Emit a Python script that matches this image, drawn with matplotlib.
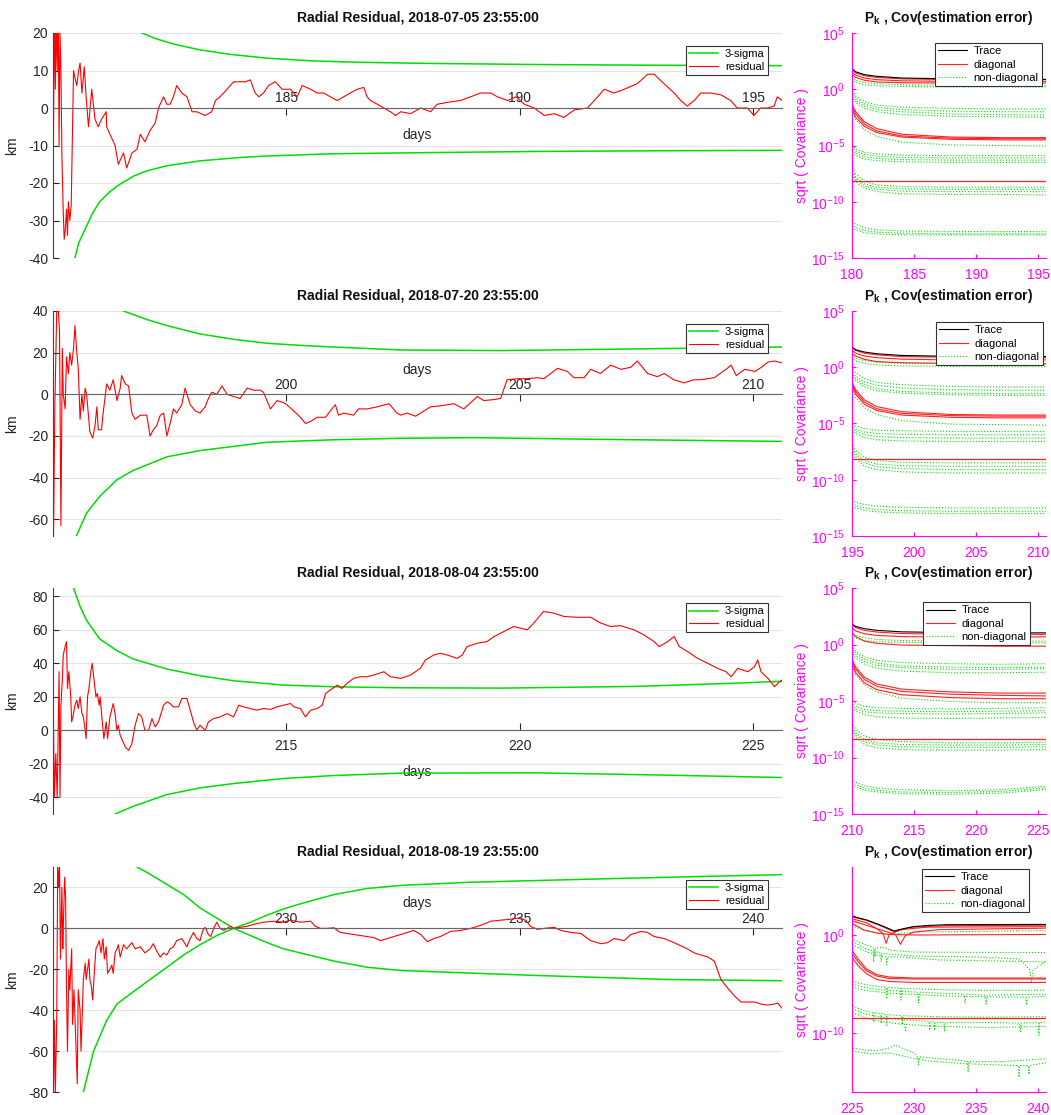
import numpy as np
import matplotlib
matplotlib.use("Agg")
import matplotlib.pyplot as plt
from matplotlib.lines import Line2D

plt.rcParams['font.family'] = ['Liberation Sans', 'DejaVu Sans']
plt.rcParams['mathtext.fontset'] = 'custom'
plt.rcParams['mathtext.rm'] = 'Liberation Sans'
plt.rcParams['mathtext.bf'] = 'Liberation Sans:bold'
plt.rcParams['mathtext.default'] = 'regular'
plt.rcParams['axes.unicode_minus'] = False

# ---------------- residual data (day, km) ----------------
res1 = [(180.0, 35), (180.01, -8), (180.03, 30), (180.05, 5), (180.07, 25), (180.09, 10), (180.11, 30),
        (180.13, -10), (180.15, 20), (180.17, 10), (180.19, -12), (180.22, -28), (180.24, -35), (180.26, -33),
        (180.29, -27), (180.31, -34), (180.33, -25), (180.36, -30), (180.39, -26), (180.42, -5), (180.44, 10),
        (180.47, 8), (180.51, 6), (180.55, 10), (180.58, 12), (180.62, 4), (180.67, 11), (180.71, 3),
        (180.76, -5), (180.83, 5), (180.90, -3), (180.97, -5), (181.04, -3), (181.14, -1), (181.15, -5),
        (181.22, -7), (181.33, -10), (181.40, -15), (181.51, -12), (181.58, -16), (181.69, -12), (181.80, -11),
        (181.87, -7), (181.97, -9), (182.08, -6), (182.19, -4), (182.26, 0), (182.37, 3), (182.44, 1),
        (182.51, 1), (182.58, 3), (182.65, 6), (182.76, 4), (182.87, 3), (182.98, -1), (183.08, -1),
        (183.26, -2), (183.40, -1), (183.48, 2), (183.58, 3), (183.73, 5), (183.87, 7), (184.01, 7),
        (184.12, 7), (184.23, 7.5), (184.33, 4), (184.41, 3), (184.51, 4), (184.62, 6), (184.76, 7),
        (184.91, 5), (185.09, 5), (185.23, 3), (185.34, 6), (185.52, 5), (185.66, 4), (185.80, 4),
        (185.94, 3), (186.09, 2), (186.23, 3), (186.37, 4), (186.52, 5), (186.66, 5.5), (186.73, 3),
        (186.80, 2), (186.95, 1), (187.09, 0), (187.23, -1), (187.34, -2), (187.45, -1), (187.66, -1.5),
        (187.88, 0), (188.09, -1), (188.23, 1), (188.45, 1.5), (188.73, 2), (188.95, 3), (189.16, 4),
        (189.38, 4), (189.52, 3), (189.74, 2), (189.92, 3), (190.10, 1), (190.31, 0), (190.53, -2),
        (190.74, -1.5), (190.95, -2.5), (191.17, -0.5), (191.45, 0), (191.60, 2), (191.81, 5), (192.02, 4),
        (192.24, 5), (192.52, 6.5), (192.74, 9), (192.88, 9), (193.09, 6.5), (193.31, 4), (193.45, 2),
        (193.59, 0.5), (193.74, 2), (193.88, 4), (194.09, 4), (194.31, 3.5), (194.52, 2), (194.66, 0),
        (194.88, 0), (195.02, -2), (195.16, 0), (195.30, 0), (195.45, 0.5), (195.52, 3), (195.62, 2)]

res2 = [(195.0, 45), (195.01, -70), (195.04, -5), (195.08, 40), (195.11, 42), (195.14, 30), (195.17, -63),
        (195.20, 22), (195.22, 0), (195.26, -7), (195.29, 18), (195.33, 10), (195.36, 20), (195.40, 14),
        (195.44, 22), (195.47, 33), (195.51, 20), (195.54, 13), (195.58, -12), (195.62, 0), (195.65, -8),
        (195.69, 3), (195.72, 0), (195.76, -10), (195.79, -18), (195.85, -21), (195.90, -15), (195.94, -6),
        (195.97, -17), (196.04, -17), (196.08, -8), (196.15, 5), (196.22, 2), (196.29, 7), (196.37, -3),
        (196.44, 3), (196.47, 9), (196.55, 5), (196.62, 4), (196.69, -9), (196.76, -12), (196.87, -10),
        (197.01, -10), (197.08, -20), (197.15, -17), (197.22, -15), (197.30, -10), (197.37, -9), (197.44, -20),
        (197.51, -14), (197.58, -7), (197.65, -9), (197.76, -5), (197.83, 3), (197.94, -5), (198.05, -8),
        (198.15, -9), (198.26, -6), (198.33, -2), (198.40, 1), (198.51, 0), (198.62, 4), (198.73, 0),
        (198.87, -1), (199.01, -2), (199.16, 3), (199.30, 2), (199.44, 2), (199.51, 1), (199.66, -7),
        (199.80, -3), (199.94, -4), (200.01, -5), (200.16, -8), (200.30, -11), (200.41, -14), (200.52, -13),
        (200.66, -11), (200.84, -11), (200.94, -8), (201.05, -5), (201.12, -10), (201.23, -9), (201.44, -10),
        (201.55, -7), (201.73, -7), (201.95, -6), (202.20, -4.5), (202.37, -9), (202.45, -10), (202.59, -9),
        (202.77, -10.5), (202.95, -8), (203.09, -6), (203.30, -5.5), (203.59, -4.5), (203.80, -7),
        (203.95, -4), (204.09, -1), (204.23, -3), (204.45, -2.5), (204.59, -2), (204.73, 7), (204.95, 7.5),
        (205.16, 7.5), (205.38, 8), (205.52, 7.5), (205.81, 12.5), (206.02, 11), (206.16, 8), (206.38, 8),
        (206.52, 12), (206.73, 10), (206.95, 14), (207.17, 12), (207.38, 13), (207.52, 16), (207.74, 10),
        (207.95, 8.5), (208.10, 10), (208.30, 7), (208.52, 5.5), (208.73, 7), (208.88, 7), (209.17, 8),
        (209.42, 12), (209.53, 14), (209.64, 9), (209.82, 12), (210.04, 11), (210.18, 13), (210.32, 15.5),
        (210.46, 16), (210.64, 15)]

res3 = [(210.0, 90), (210.005, -55), (210.01, 5), (210.03, -40), (210.06, -14), (210.09, -40), (210.13, 35),
        (210.15, -40), (210.17, 15), (210.20, 30), (210.22, 45), (210.26, 50), (210.29, 53), (210.31, 25),
        (210.34, 35), (210.38, 20), (210.40, 5), (210.44, 10), (210.47, 15), (210.51, 18), (210.54, 13),
        (210.58, 20), (210.62, 10), (210.65, 8), (210.69, 0), (210.71, -5), (210.74, 20), (210.77, 25),
        (210.81, 35), (210.84, 40), (210.88, 30), (210.92, 20), (210.95, 22), (210.99, 15), (211.01, 20),
        (211.04, 10), (211.09, -5), (211.14, 5), (211.17, -5), (211.22, 8), (211.29, 16), (211.33, 10),
        (211.37, 0), (211.40, 3), (211.44, -3), (211.47, -5), (211.55, -10), (211.62, -12), (211.69, -8),
        (211.76, 3), (211.83, 10), (211.90, 8), (211.97, 0), (212.05, 0), (212.12, 7), (212.19, 2),
        (212.26, 5), (212.37, 15), (212.44, 17), (212.51, 16), (212.58, 14), (212.69, 14), (212.76, 19),
        (212.87, 19), (212.94, 12), (213.01, 5), (213.08, 0), (213.15, 3), (213.26, 0), (213.33, 5),
        (213.44, 7), (213.58, 8), (213.73, 10), (213.87, 8), (213.98, 15), (214.08, 14), (214.23, 13),
        (214.37, 12), (214.51, 13), (214.66, 12.5), (214.80, 14), (214.94, 15), (215.09, 16), (215.16, 14),
        (215.30, 13), (215.41, 8), (215.52, 12), (215.66, 13), (215.77, 15), (215.84, 22), (215.94, 24),
        (216.09, 27), (216.19, 25), (216.30, 28), (216.44, 31), (216.59, 32), (216.73, 32), (216.87, 33),
        (217.09, 35), (217.23, 32), (217.45, 31), (217.66, 33), (217.87, 37), (217.98, 42), (218.16, 45),
        (218.30, 46), (218.44, 45), (218.66, 43), (218.77, 45), (218.87, 50), (219.09, 52), (219.30, 53),
        (219.45, 56), (219.66, 59), (219.87, 62), (220.16, 60), (220.30, 64), (220.51, 71), (220.73, 70),
        (220.95, 68), (221.23, 67.5), (221.52, 67.5), (221.74, 64), (221.95, 62), (222.16, 62.5),
        (222.45, 60), (222.66, 57), (222.88, 53), (222.99, 50), (223.17, 53), (223.31, 56), (223.42, 50),
        (223.60, 47), (223.81, 43), (224.03, 40), (224.24, 37), (224.42, 35), (224.53, 32), (224.67, 37),
        (224.89, 35), (225.03, 38), (225.10, 42), (225.17, 35), (225.32, 31), (225.46, 26), (225.53, 28),
        (225.62, 30)]

res4 = [(225.0, 35), (225.005, -85), (225.01, -80), (225.03, -45), (225.05, -80), (225.08, -45), (225.10, 30),
        (225.12, 20), (225.14, 30), (225.16, -15), (225.19, 20), (225.21, -10), (225.22, 0), (225.25, 25),
        (225.27, 15), (225.29, -30), (225.31, -60), (225.34, -20), (225.36, -30), (225.40, -10), (225.42, -47),
        (225.45, -30), (225.48, -50), (225.52, -76), (225.54, -30), (225.58, -40), (225.60, -60),
        (225.63, -40), (225.65, -25), (225.69, -17), (225.71, -25), (225.74, -20), (225.77, -15),
        (225.79, -25), (225.82, -28), (225.85, -35), (225.89, -20), (225.92, -10), (225.96, -8), (225.99, -6),
        (226.03, -12), (226.07, -5), (226.10, -15), (226.14, -9), (226.17, -22), (226.22, -20), (226.26, -18),
        (226.29, -22), (226.33, -12), (226.37, -10), (226.40, -8), (226.44, -14), (226.51, -8), (226.58, -10),
        (226.69, -7), (226.76, -10), (226.87, -9), (226.97, -12), (227.08, -10), (227.15, -7.5),
        (227.22, -11), (227.30, -14), (227.37, -12), (227.44, -13), (227.51, -10), (227.58, -9), (227.65, -6),
        (227.76, -5), (227.87, -9), (227.94, -5), (228.01, -2), (228.08, -5), (228.15, -6), (228.21, -1),
        (228.26, 0.5), (228.33, -3), (228.38, -4), (228.44, 0), (228.51, 3), (228.58, 0), (228.66, -1),
        (228.73, 0), (228.80, 1), (228.87, 0), (229.01, 0.5), (229.16, 1), (229.30, 2), (229.51, 3),
        (229.73, 3.5), (229.94, 3), (230.09, 4), (230.30, 3), (230.52, 3.5), (230.62, 1), (230.73, 0),
        (230.87, 0), (231.02, 0.3), (231.09, -1), (231.16, -2), (231.30, -2.5), (231.44, -3), (231.59, -3.5),
        (231.73, -4), (231.87, -4.5), (232.02, -6), (232.16, -5), (232.30, -4), (232.45, -3), (232.59, -2),
        (232.73, -1), (232.88, -3), (233.02, -6.5), (233.16, -5), (233.30, -4), (233.52, -1.5), (233.73, -1),
        (233.95, 0), (234.17, 1.5), (234.38, 3.5), (234.59, 4), (234.81, 4.5), (234.95, 5), (235.13, 4),
        (235.23, 1), (235.38, -0.5), (235.52, 0), (235.74, 0.5), (235.88, -1), (236.10, -2), (236.31, -2.5),
        (236.52, -6), (236.74, -7.5), (236.88, -7), (237.02, -5), (237.24, -6), (237.38, -3), (237.60, -1.5),
        (237.74, -2), (237.88, -4), (238.10, -5), (238.31, -7), (238.45, -8.5), (238.59, -10), (238.74, -12),
        (238.88, -13), (239.03, -14), (239.17, -16), (239.31, -25), (239.45, -29), (239.60, -33),
        (239.74, -36), (239.88, -36), (240.03, -36), (240.17, -37), (240.31, -37.5), (240.46, -37),
        (240.53, -36.5), (240.62, -39)]

# 3-sigma envelopes (day, km)
sig1_hi = [(181.2, 26), (181.5, 23), (181.85, 20.3), (182.2, 18.5), (182.6, 17), (183.15, 15.5), (183.8, 14.3),
           (184.58, 13.3), (185.5, 12.6), (186.5, 12.2), (188.0, 11.9), (190.3, 11.6), (193.0, 11.4), (195.62, 11.3)]
sig1_lo = [(180.42, -44), (180.47, -40), (180.55, -36), (180.72, -31.5), (180.85, -28), (181.0, -25),
           (181.2, -22.5), (181.4, -20.6), (181.72, -18.2), (182.0, -16.8), (182.44, -15.4), (183.15, -14.1),
           (184.0, -13.2), (184.58, -12.8), (186.0, -12.2), (188.0, -11.9), (190.3, -11.6), (193.0, -11.4),
           (195.62, -11.3)]
sig2_hi = [(196.3, 44), (196.51, 40), (197.0, 36), (197.44, 33), (198.15, 29), (198.9, 26.3), (199.59, 24.5),
           (200.3, 23.5), (201.02, 22.7), (202.45, 21.3), (204.6, 21.0), (207.5, 21.8), (210.64, 22.7)]
sig2_lo = [(195.45, -75), (195.5, -68), (195.72, -57), (196.0, -49), (196.37, -41), (196.72, -36.5),
           (197.44, -30), (198.15, -27), (199.59, -23), (201.02, -21.8), (202.45, -21.1), (204.0, -20.8),
           (206.7, -21.6), (210.64, -22.6)]
sig3_hi = [(210.4, 90), (210.44, 85), (210.58, 74), (210.72, 65.6), (211.0, 54.6), (211.37, 47.6),
           (211.72, 42.6), (212.44, 36.6), (213.15, 32.6), (213.87, 29.6), (214.94, 27), (216.02, 26),
           (217.45, 25.4), (219.6, 25.2), (222.45, 26.2), (224.5, 28.0), (225.62, 29.3)]
sig3_lo = [(211.2, -53), (211.33, -50), (211.72, -45.4), (212.44, -38.4), (213.15, -34.4), (213.87, -31.8),
           (214.94, -28.8), (216.02, -27), (217.45, -25.6), (220.3, -25.4), (223.17, -26.8), (225.62, -28.2)]
sig4_hi = [(225.6, -90), (225.65, -80), (225.87, -60), (226.15, -45), (226.37, -37), (226.72, -31),
           (227.08, -25), (227.44, -19), (227.8, -13), (228.15, -8), (228.51, -3.5), (228.87, 0), (229.23, 3),
           (229.59, 6.5), (229.94, 9.5), (230.3, 12), (231.02, 16.5), (231.73, 19.5), (232.45, 21),
           (233.88, 22.5), (236.74, 24.2), (240.64, 26.3)]
sig4_lo = [(226.6, 36), (226.8, 30), (227.08, 26.5), (227.44, 21.5), (227.8, 16.5), (228.15, 10), (228.51, 5),
           (228.87, 0), (229.23, -3.5), (229.59, -7), (229.94, -10), (230.3, -12), (231.02, -16), (231.73, -19),
           (232.45, -20.6), (235.31, -23), (238.17, -25), (240.64, -25.6)]

titles = ['Radial Residual, 2018-07-05 23:55:00', 'Radial Residual, 2018-07-20 23:55:00',
          'Radial Residual, 2018-08-04 23:55:00', 'Radial Residual, 2018-08-19 23:55:00']
starts = [180, 195, 210, 225]
ylims = [(-40, 20), (-68, 40), (-50, 85), (-80, 30)]
yticks = [[-40, -30, -20, -10, 0, 10, 20], [-60, -40, -20, 0, 20, 40],
          [-40, -20, 0, 20, 40, 60, 80], [-80, -60, -40, -20, 0, 20]]
xticks = [[185, 190, 195], [200, 205, 210], [215, 220, 225], [230, 235, 240]]

# ---------------- covariance data (log10 of sqrt covariance) ----------------
cov_dt = [0, 0.03, 0.3, 1, 2, 4, 8, 12, 15.62]

cov1_trace = [5.0, 1.8, 1.55, 1.3, 1.15, 1.0, 0.92, 0.9, 0.88]
cov1_diag = [[4.9, 1.65, 1.45, 1.2, 1.05, 0.92, 0.86, 0.85, 0.85],
             [4.0, 1.45, 1.25, 1.0, 0.85, 0.75, 0.7, 0.7, 0.7],
             [3.5, 1.25, 1.05, 0.8, 0.65, 0.58, 0.55, 0.55, 0.55],
             [-1.0, -1.4, -2.0, -2.9, -3.5, -4.0, -4.25, -4.3, -4.3],
             [-1.2, -1.5, -2.2, -3.1, -3.7, -4.15, -4.35, -4.4, -4.4],
             [-1.6, -1.8, -2.5, -3.3, -3.85, -4.25, -4.45, -4.5, -4.5]]
cov1_flat = -8.18
cov1_off = [[0.9, 1.0, 0.8, 0.6, 0.5, 0.4, 0.35, 0.33, 0.33],
            [0.7, 0.8, 0.6, 0.4, 0.3, 0.25, 0.2, 0.2, 0.2],
            [-15, -0.1, -0.6, -1.1, -1.4, -1.6, -1.7, -1.75, -1.75],
            [-0.2, -0.3, -0.8, -1.3, -1.6, -1.8, -1.95, -2.0, -2.0],
            [-0.4, -0.5, -1.0, -1.5, -1.8, -2.0, -2.2, -2.25, -2.3],
            [-0.6, -0.7, -1.2, -1.7, -2.0, -2.25, -2.4, -2.45, -2.5],
            [-1.9, -2.0, -2.7, -3.6, -4.2, -4.7, -4.95, -5.0, -5.05],
            [-15, -5.0, -5.3, -5.6, -5.75, -5.85, -5.9, -5.9, -5.9],
            [-5.1, -5.2, -5.5, -5.8, -5.95, -6.05, -6.1, -6.1, -6.1],
            [-5.4, -5.4, -5.7, -6.0, -6.15, -6.25, -6.3, -6.3, -6.3],
            [-5.6, -5.6, -5.9, -6.2, -6.35, -6.45, -6.5, -6.5, -6.5],
            [-15, -6.8, -7.5, -8.2, -8.5, -8.65, -8.7, -8.7, -8.7],
            [-7.0, -7.1, -7.8, -8.4, -8.7, -8.85, -8.9, -8.9, -8.9],
            [-7.3, -7.4, -8.0, -8.6, -8.9, -9.05, -9.1, -9.1, -9.1],
            [-7.6, -7.6, -8.2, -8.8, -9.1, -9.3, -9.35, -9.35, -9.4],
            [-15, -11.8, -12.0, -12.3, -12.5, -12.6, -12.65, -12.65, -12.65],
            [-12.0, -12.1, -12.3, -12.55, -12.7, -12.8, -12.85, -12.85, -12.85],
            [-12.3, -12.3, -12.5, -12.75, -12.85, -12.95, -12.95, -12.95, -12.95]]

cov2_trace = [5.0, 1.8, 1.55, 1.35, 1.2, 1.05, 0.97, 0.95, 0.95]
cov2_diag = [[4.9, 1.7, 1.5, 1.25, 1.1, 0.95, 0.88, 0.86, 0.85],
             [4.0, 1.5, 1.25, 1.0, 0.85, 0.72, 0.65, 0.65, 0.65],
             [3.5, 1.2, 1.0, 0.7, 0.5, 0.4, 0.35, 0.3, 0.3],
             [-1.0, -1.4, -2.0, -2.9, -3.5, -3.95, -4.2, -4.25, -4.25],
             [-1.2, -1.5, -2.2, -3.1, -3.7, -4.1, -4.3, -4.35, -4.35],
             [-1.5, -1.7, -2.4, -3.3, -3.85, -4.25, -4.45, -4.5, -4.5]]
cov2_flat = -8.18
cov2_off = [[0.9, 1.0, 0.8, 0.6, 0.45, 0.35, 0.3, 0.3, 0.3],
            [0.7, 0.8, 0.55, 0.35, 0.2, 0.12, 0.08, 0.05, 0.05],
            [-15, 0.0, -0.5, -1.0, -1.35, -1.55, -1.7, -1.75, -1.75],
            [-0.2, -0.3, -0.8, -1.3, -1.6, -1.85, -2.0, -2.05, -2.05],
            [-0.45, -0.5, -1.0, -1.55, -1.9, -2.15, -2.3, -2.35, -2.35],
            [-0.7, -0.7, -1.2, -1.75, -2.1, -2.3, -2.45, -2.5, -2.5],
            [-1.9, -2.0, -2.7, -3.6, -4.2, -4.75, -5.05, -5.1, -5.15],
            [-15, -4.9, -5.2, -5.45, -5.6, -5.65, -5.7, -5.7, -5.7],
            [-5.1, -5.2, -5.5, -5.75, -5.9, -5.95, -6.0, -6.0, -6.0],
            [-5.4, -5.4, -5.7, -6.0, -6.15, -6.25, -6.3, -6.3, -6.3],
            [-5.6, -5.6, -5.9, -6.25, -6.45, -6.55, -6.6, -6.6, -6.6],
            [-15, -6.8, -7.4, -8.0, -8.3, -8.45, -8.5, -8.5, -8.5],
            [-7.0, -7.1, -7.7, -8.3, -8.6, -8.75, -8.8, -8.8, -8.8],
            [-7.3, -7.3, -7.9, -8.5, -8.85, -9.0, -9.1, -9.1, -9.1],
            [-7.5, -7.5, -8.1, -8.8, -9.1, -9.3, -9.4, -9.4, -9.4],
            [-15, -11.8, -12.0, -12.2, -12.35, -12.45, -12.5, -12.5, -12.5],
            [-12.1, -12.1, -12.3, -12.5, -12.65, -12.75, -12.8, -12.8, -12.8],
            [-12.4, -12.4, -12.5, -12.7, -12.85, -12.95, -13.0, -13.0, -13.0]]

cov3_trace = [5.0, 1.8, 1.6, 1.4, 1.25, 1.12, 1.05, 1.03, 1.03]
cov3_diag = [[4.9, 1.7, 1.5, 1.25, 1.1, 0.97, 0.9, 0.9, 0.9],
             [4.0, 1.45, 1.2, 0.95, 0.8, 0.7, 0.65, 0.65, 0.68],
             [3.5, 1.0, 0.7, 0.3, 0.1, -0.05, -0.1, -0.15, -0.15],
             [-0.9, -1.4, -2.0, -2.9, -3.5, -3.95, -4.2, -4.3, -4.3],
             [-1.1, -1.5, -2.2, -3.1, -3.7, -4.15, -4.4, -4.5, -4.55],
             [-1.4, -1.7, -2.5, -3.4, -4.0, -4.45, -4.7, -4.8, -4.8]]
cov3_flat = -8.38
cov3_off = [[0.9, 1.0, 0.8, 0.6, 0.45, 0.35, 0.3, 0.3, 0.3],
            [0.7, 0.8, 0.55, 0.35, 0.25, 0.18, 0.15, 0.15, 0.15],
            [-15, -0.1, -0.6, -1.1, -1.4, -1.6, -1.7, -1.75, -1.7],
            [-0.2, -0.3, -0.8, -1.3, -1.65, -1.9, -2.0, -2.05, -2.0],
            [-0.4, -0.5, -1.0, -1.5, -1.85, -2.05, -2.2, -2.2, -2.15],
            [-0.6, -0.7, -1.2, -1.75, -2.1, -2.35, -2.5, -2.5, -2.45],
            [-1.9, -2.0, -2.7, -3.6, -4.2, -4.75, -5.05, -5.15, -5.15],
            [-15, -4.9, -5.2, -5.45, -5.6, -5.65, -5.7, -5.65, -5.6],
            [-5.1, -5.2, -5.5, -5.75, -5.85, -5.9, -5.95, -5.9, -5.85],
            [-5.4, -5.4, -5.7, -5.95, -6.05, -6.1, -6.15, -6.1, -6.05],
            [-5.6, -5.6, -5.9, -6.2, -6.4, -6.5, -6.55, -6.5, -6.45],
            [-15, -6.9, -7.5, -8.1, -8.4, -8.6, -8.7, -8.7, -8.65],
            [-7.1, -7.2, -7.8, -8.4, -8.7, -8.85, -8.9, -8.9, -8.85],
            [-7.4, -7.4, -8.0, -8.6, -8.9, -9.05, -9.1, -9.1, -9.05],
            [-7.6, -7.6, -8.2, -8.85, -9.15, -9.3, -9.35, -9.35, -9.3],
            [-15, -12.0, -12.2, -12.5, -12.7, -12.85, -12.95, -12.85, -12.55],
            [-12.2, -12.2, -12.4, -12.7, -12.9, -13.05, -13.1, -13.0, -12.7],
            [-12.4, -12.4, -12.6, -12.9, -13.05, -13.2, -13.25, -13.15, -12.85]]

# last panel: (day, log10) points
cov4_trace = [(225.0, 5.1), (225.03, 2.0), (225.5, 1.8), (226.15, 1.6), (227.2, 1.1), (228.0, 0.68),
              (228.4, 0.45), (228.8, 0.6), (229.9, 0.9), (231.2, 1.03), (232.6, 1.1), (240.62, 1.13)]
cov4_diag = [[(225.0, 4.0), (225.03, 1.9), (226.15, 1.55), (227.2, 1.05), (228.0, 0.6), (228.4, 0.4),
              (228.8, 0.55), (229.9, 0.85), (232.6, 1.0), (240.62, 1.05)],
             [(225.03, 1.7), (226.15, 1.3), (227.0, 0.7), (227.5, 0.2), (227.75, -0.8), (228.0, 0.1),
              (229.0, 0.6), (231.0, 0.85), (240.62, 0.9)],
             [(225.03, 1.5), (226.5, 0.9), (227.5, 0.5), (228.5, 0.1), (228.9, -0.9), (229.3, 0.0),
              (230.0, 0.35), (232.0, 0.6), (240.62, 0.75)],
             [(225.03, 1.2), (226.0, 0.55), (227.0, 0.25), (228.0, 0.1), (230.0, 0.05), (240.62, 0.1)],
             [(225.03, -1.6), (225.5, -2.4), (226.15, -3.4), (227.0, -4.0), (228.0, -4.25), (230.0, -4.35),
              (240.62, -4.35)],
             [(225.03, -1.9), (225.5, -2.7), (226.15, -3.6), (227.0, -4.15), (228.0, -4.4), (230.0, -4.45),
              (240.62, -4.45)],
             [(225.03, -2.3), (225.5, -3.1), (226.15, -3.9), (227.0, -4.5), (228.0, -4.7), (230.0, -4.8),
              (240.62, -4.8)]]
cov4_flat = -8.46
cov4_off = [[(225.03, 1.0), (226.0, 0.5), (227.0, 0.3), (228.0, 0.1), (230.0, 0.35), (240.62, 0.5)],
            [(225.0, -15), (225.03, -0.4), (226.0, -0.9), (226.8, -1.3), (226.85, -2.2), (226.9, -1.3),
             (227.6, -1.2), (228.0, -1.5), (230.0, -1.7), (240.62, -1.75)],
            [(225.03, -0.6), (226.0, -1.3), (226.7, -1.6), (226.74, -2.7), (226.78, -1.6), (227.3, -1.8),
             (227.35, -2.7), (227.4, -1.8), (228.0, -1.9), (230.0, -2.1), (235.0, -2.2), (238.5, -2.4),
             (239.3, -3.5), (239.45, -4.7), (239.6, -3.5), (240.62, -2.6)],
            [(225.03, -0.9), (226.0, -1.6), (227.0, -2.0), (227.75, -2.2), (227.8, -3.0), (227.85, -2.2),
             (229.0, -2.2), (232.0, -2.5), (240.62, -2.7)],
            [(225.03, -4.7), (226.0, -5.0), (227.0, -5.2), (227.75, -5.3), (227.8, -6.5), (227.85, -5.3),
             (228.9, -5.4), (228.95, -6.6), (229.0, -5.4), (231.0, -5.5), (235.0, -5.6), (240.62, -5.6)],
            [(225.03, -5.0), (226.0, -5.3), (227.0, -5.5), (229.0, -5.7), (230.3, -5.8), (230.35, -6.9),
             (230.4, -5.8), (234.0, -6.0), (234.1, -6.9), (234.2, -6.0), (235.7, -6.1), (235.8, -7.0),
             (235.9, -6.1), (240.62, -6.0)],
            [(225.03, -5.3), (226.0, -5.6), (228.0, -5.9), (231.0, -6.1), (233.0, -6.2), (237.0, -6.3),
             (239.0, -6.3), (239.05, -7.1), (239.1, -6.3), (240.62, -6.2)],
            [(225.0, -15), (225.03, -7.2), (226.0, -7.7), (226.7, -7.9), (226.75, -8.8), (226.8, -7.9),
             (227.3, -8.0), (227.35, -9.0), (227.4, -8.0), (227.75, -8.1), (227.8, -9.2), (227.85, -8.1),
             (229.0, -8.2), (229.05, -9.1), (229.1, -8.2), (232.0, -8.3), (236.0, -8.35), (240.62, -8.3)],
            [(225.03, -7.5), (226.0, -8.0), (227.5, -8.4), (229.0, -8.6), (231.2, -8.8), (231.25, -9.7),
             (231.3, -8.8), (231.6, -8.85), (231.65, -9.7), (231.7, -8.85), (232.4, -8.9), (232.45, -9.8),
             (232.5, -8.9), (236.0, -8.9), (238.5, -8.95), (238.55, -9.9), (238.6, -8.95), (240.0, -8.9),
             (240.05, -10.2), (240.1, -8.9), (240.62, -8.85)],
            [(225.03, -7.9), (226.5, -8.6), (228.5, -9.0), (229.2, -9.1), (229.3, -9.7), (229.4, -9.1),
             (232.0, -9.3), (236.0, -9.4), (240.62, -9.3)],
            [(225.0, -15), (225.03, -11.5), (226.0, -11.7), (227.0, -11.8), (228.0, -11.5), (228.5, -11.2),
             (229.0, -11.5), (230.0, -12.0), (230.3, -12.4), (230.35, -13.2), (230.4, -12.4), (232.0, -12.6),
             (234.0, -12.8), (234.3, -12.9), (234.35, -14.0), (234.4, -12.9), (237.0, -12.9), (240.62, -12.6)],
            [(225.03, -11.8), (226.5, -12.1), (228.0, -12.0), (229.0, -12.3), (231.0, -12.8), (234.0, -13.1),
             (236.0, -13.2), (238.4, -13.3), (238.45, -14.5), (238.5, -13.3), (239.2, -13.3), (239.25, -14.2),
             (239.3, -13.3), (240.62, -13.0)]]

W, H = 1051, 1115
rows_px = [(33, 258), (311, 536), (588, 814), (867, 1092)]
GREEN = '#00dd00'
MAG = '#ff00ff'
TXT = '#262626'

fig = plt.figure(figsize=(W / 100, H / 100), dpi=100)


def xy(pts):
    d, v = zip(*pts)
    return np.array(d), np.array(v)


def left_panel(i, res, hi, lo, above, label_y, leg_top):
    top, bot = rows_px[i]
    ax = fig.add_axes([53 / W, 1 - bot / H, (782 - 53) / W, (bot - top) / H])
    x0 = starts[i]
    ax.set_xlim(x0, x0 + 15.62)
    ax.set_ylim(*ylims[i])
    ax.yaxis.grid(True, color='#e4e4e4', lw=0.8)
    ax.set_axisbelow(True)
    l1, = ax.plot(*xy(hi), color=GREEN, lw=1.1)
    ax.plot(*xy(lo), color=GREEN, lw=1.1)
    l2, = ax.plot(*xy(res), color='#ff0000', lw=0.8)
    for s in ['top', 'right']:
        ax.spines[s].set_visible(False)
    ax.spines['bottom'].set_position(('data', 0))
    ax.spines['bottom'].set_color('#666666')
    ax.spines['left'].set_color('#444444')
    ax.set_xticks(xticks[i])
    ax.set_yticks(yticks[i])
    ax.tick_params(axis='y', direction='in', length=4, colors=TXT, labelsize=10)
    if above:
        ax.tick_params(axis='x', direction='out', length=5, pad=-17, colors=TXT, labelsize=10)
    else:
        ax.tick_params(axis='x', direction='in', length=5, pad=6, colors=TXT, labelsize=10)
    ax.set_xlabel('days', fontsize=10, color=TXT)
    ax.xaxis.set_label_coords(0.5, label_y)
    ax.set_ylabel('km', fontsize=10, color=TXT, labelpad=6)
    ax.set_title(titles[i], fontweight='bold', fontsize=10, pad=8, color='#111111')
    leg = ax.legend([l1, l2], ['3-sigma', 'residual'], loc='upper right',
                    bbox_to_anchor=(1 - 14 / 729, 1 - leg_top / 225), borderaxespad=0,
                    fontsize=8, handlelength=2.6, fancybox=False, framealpha=1,
                    edgecolor='#333333', borderpad=0.3, labelspacing=0.2, handletextpad=0.6)
    leg.get_frame().set_linewidth(0.8)


def right_panel(i, trace, diag, flat, off, ylim, yt, leg_anchor):
    top, bot = rows_px[i]
    ax = fig.add_axes([852 / W, 1 - bot / H, 194 / W, (bot - top) / H])
    x0 = starts[i]
    x1 = x0 + 15.62
    if i < 3:
        t = x0 + np.array(cov_dt)
        for v in off:
            ax.plot(t, 10.0 ** np.array(v), color=GREEN, lw=0.8, ls=':')
        for v in diag:
            ax.plot(t, 10.0 ** np.array(v), color='#ff2020', lw=0.8)
        ax.plot(t, 10.0 ** np.array(trace), color='k', lw=0.8)
    else:
        for pts in off:
            d, v = xy(pts)
            ax.plot(d, 10.0 ** v, color=GREEN, lw=0.8, ls=':')
        for pts in diag:
            d, v = xy(pts)
            ax.plot(d, 10.0 ** v, color='#ff2020', lw=0.8)
        d, v = xy(trace)
        ax.plot(d, 10.0 ** v, color='k', lw=0.8)
    ax.plot([x0, x1], [10.0 ** flat, 10.0 ** flat], color='#ff2020', lw=0.9)
    ax.set_yscale('log')
    ax.set_ylim(*ylim)
    ax.set_xlim(x0, x1)
    ax.set_yticks(yt)
    ax.minorticks_off()
    ax.set_xticks([x0, x0 + 5, x0 + 10, x0 + 15])
    for s in ['top', 'right']:
        ax.spines[s].set_visible(False)
    for s in ['bottom', 'left']:
        ax.spines[s].set_color(MAG)
    ax.tick_params(direction='in', length=3, colors=MAG, labelsize=10)
    ax.tick_params(axis='x', pad=7)
    ax.tick_params(axis='y', pad=5)
    ax.set_ylabel('sqrt ( Covariance )', color=MAG, fontsize=10, labelpad=2)
    ax.set_title(r'$\mathbf{P_k}$ , Cov(estimation error)', fontweight='bold', fontsize=10, pad=8,
                 color='#111111')
    hs = [Line2D([], [], color='k', lw=0.8), Line2D([], [], color='#ff2020', lw=0.8),
          Line2D([], [], color=GREEN, lw=0.8, ls=':')]
    leg = ax.legend(hs, ['Trace', 'diagonal', 'non-diagonal'], loc='upper right',
                    bbox_to_anchor=leg_anchor, borderaxespad=0, fontsize=8, handlelength=2.6,
                    fancybox=False, framealpha=1, edgecolor='#333333', borderpad=0.3,
                    labelspacing=0.3, handletextpad=0.6)
    leg.get_frame().set_linewidth(0.8)


left_panel(0, res1, sig1_hi, sig1_lo, True, 0.577, 13)
left_panel(1, res2, sig2_hi, sig2_lo, True, 0.77, 13)
left_panel(2, res3, sig3_hi, sig3_lo, False, 0.215, 15)
left_panel(3, res4, sig4_hi, sig4_lo, True, 0.87, 13)

std_ticks = [1e-15, 1e-10, 1e-5, 1e0, 1e5]
right_panel(0, cov1_trace, cov1_diag, cov1_flat, cov1_off, (1e-15, 1e5), std_ticks, (1 - 4 / 194, 1 - 10 / 225))
right_panel(1, cov2_trace, cov2_diag, cov2_flat, cov2_off, (1e-15, 1e5), std_ticks, (1 - 3 / 194, 1 - 11 / 225))
right_panel(2, cov3_trace, cov3_diag, cov3_flat, cov3_off, (1e-15, 1e5), std_ticks, (1 - 16 / 194, 1 - 14 / 225))
right_panel(3, cov4_trace, cov4_diag, cov4_flat, cov4_off, (1e-16, 1e7), [1e-10, 1e0], (1 - 17 / 194, 1 - 2 / 225))

fig.savefig('out.png', dpi=100)
